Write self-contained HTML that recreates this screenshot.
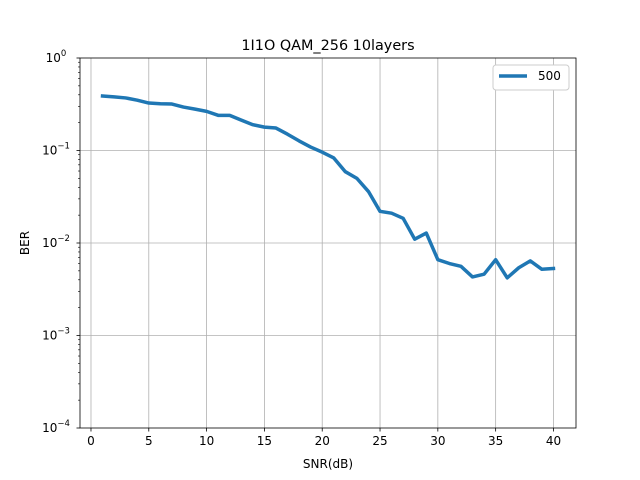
<!DOCTYPE html>
<html><head><meta charset="utf-8"><style>
body{margin:0;background:#fff}
svg{display:block;font-family:"DejaVu Sans","Liberation Sans",sans-serif}
</style></head><body>
<svg id="chart" width="640" height="480" xmlns="http://www.w3.org/2000/svg">
<rect width="640" height="480" fill="#fff"/>
<g id="grid"></g>
<g id="axes"></g>
<path id="line" fill="none" stroke="#1f77b4" stroke-width="3.5" stroke-linejoin="round" stroke-linecap="square"/>
<rect x="80" y="58" width="496" height="370" fill="none" stroke="#000" stroke-width="0.8"/>
<text x="328" y="50" font-size="14.4" text-anchor="middle">1I1O QAM_256 10layers</text>
<text x="328" y="468" font-size="12" text-anchor="middle">SNR(dB)</text>
<text transform="translate(29,243) rotate(-90)" font-size="12" text-anchor="middle">BER</text>
<g>
<rect x="493" y="65" width="76" height="25" rx="3" fill="#fff" stroke="#ccc" stroke-width="1"/>
<line x1="499" y1="76" x2="527" y2="76" stroke="#1f77b4" stroke-width="3.5"/>
<text x="538" y="80" font-size="12">500</text>
</g>
</svg>
<script>
const snr=[1,2,3,4,5,6,7,8,9,10,11,12,13,14,15,16,17,18,19,20,21,22,23,24,25,26,27,28,29,30,31,32,33,34,35,36,37,38,39,40];
const ber=[0.388,0.38,0.37,0.35,0.326,0.32,0.318,0.295,0.28,0.265,0.24,0.24,0.213,0.19,0.179,0.175,0.15,0.127,0.109,0.096,0.083,0.059,0.05,0.036,0.022,0.021,0.0185,0.011,0.0128,0.0066,0.006,0.0056,0.0043,0.0046,0.0066,0.0042,0.0054,0.0064,0.0052,0.0053];
const xTicks=[0,5,10,15,20,25,30,35,40];
const yExps=[-4,-3,-2,-1,0];
const L=80,R=576,T=58,B=428,xmin=-0.95,xmax=41.95;
const xs=v=>L+(v-xmin)/(xmax-xmin)*(R-L);
const ys=v=>B-(Math.log10(v)+4)/4*(B-T);
const NS="http://www.w3.org/2000/svg";
function mk(tag,attrs,parent){const e=document.createElementNS(NS,tag);for(const k in attrs)e.setAttribute(k,attrs[k]);parent.appendChild(e);return e;}
const grid=document.getElementById('grid'),axes=document.getElementById('axes');
xTicks.forEach(t=>{const x=xs(t);
 const g=mk('line',{x1:x,x2:x,y1:T,y2:B,stroke:'#b0b0b0','stroke-width':0.8},grid);
 
 
 mk('line',{x1:x,x2:x,y1:B,y2:B+3.5,stroke:'#000','stroke-width':0.8},axes);
 const tx=mk('text',{x:x,y:B+17,'font-size':12,'text-anchor':'middle'},axes);tx.textContent=t;
 
 
});
yExps.forEach(e=>{const y=ys(Math.pow(10,e));
 if(e>-4&&e<0){const g=mk('line',{x1:L,x2:R,y1:y,y2:y,stroke:'#b0b0b0','stroke-width':0.8},grid);
 
 }
 mk('line',{x1:L-3.5,x2:L,y1:y,y2:y,stroke:'#000','stroke-width':0.8},axes);
 const tx=mk('text',{x:L-24,y:y+4,'font-size':12,'text-anchor':'middle'},axes);
 
 
 tx.appendChild(document.createTextNode('10'));
 const s=mk('tspan',{dy:-6,'font-size':8.5},tx);s.textContent=String(e).replace('-','\u2212');
 if(e<0)for(let m=2;m<10;m++){const yy=ys(m*Math.pow(10,e));mk('line',{x1:L-2,x2:L,y1:yy,y2:yy,stroke:'#000','stroke-width':0.6},axes);}
});
document.getElementById('line').setAttribute('d',snr.map((s,i)=>(i?'L':'M')+xs(s).toFixed(2)+','+ys(ber[i]).toFixed(2)).join(''));
</script>
</body></html>
